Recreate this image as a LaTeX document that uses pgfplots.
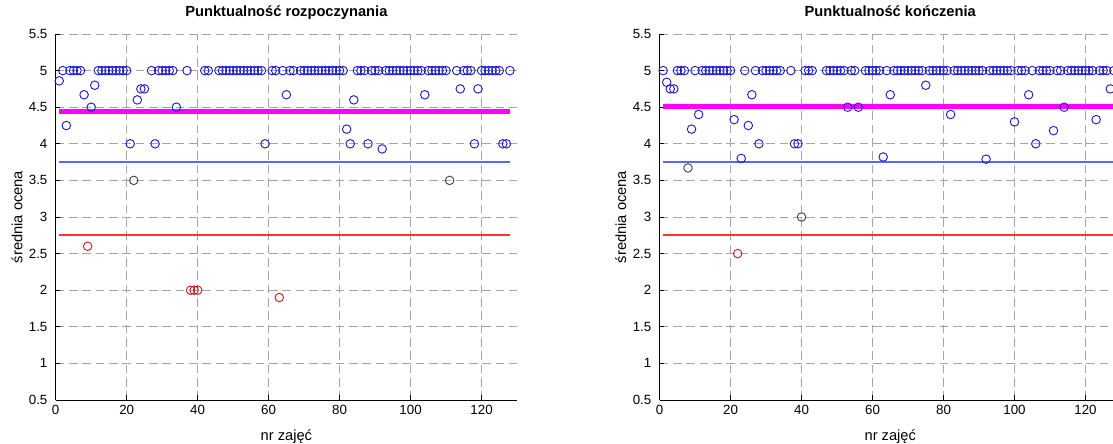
\documentclass[border=0pt]{standalone}
\usepackage{fontspec}
\setmainfont{Liberation Sans}
\usepackage{pgfplots}
\pgfplotsset{compat=1.18}
\definecolor{mblue}{RGB}{30,30,205}
\definecolor{mred}{RGB}{200,30,30}
\definecolor{mgray}{RGB}{70,70,70}
\definecolor{lineblue}{RGB}{85,105,255}
\definecolor{mmag}{RGB}{255,0,255}
\definecolor{gridgray}{RGB}{165,165,165}
\pgfplotsset{
 mystyle/.style={
  scale only axis, width=346pt, height=274.5pt,
  xmin=0, xmax=130, ymin=0.5, ymax=5.5,
  xtick={0,20,40,60,80,100,120},
  ytick={0.5,1,1.5,2,2.5,3,3.5,4,4.5,5,5.5},
  axis x line*=bottom, axis y line*=left,
  axis line style={black, line width=0.6pt, -},
  tick align=inside, major tick length=3.5pt,
  tick style={black, line width=0.5pt},
  xmajorgrids, ymajorgrids,
  grid style={gridgray, dash pattern=on 6.5pt off 3.5pt, line width=0.6pt},
  tick label style={font=\fontsize{10}{12}\selectfont},
  /pgf/number format/assume math mode=true,
  yticklabel style={/pgf/number format/fixed, /pgf/number format/precision=1, xshift=-2.7pt},
  label style={font=\fontsize{11}{13}\selectfont},
  xlabel style={at={(axis description cs:0.5,-0.1)}, anchor=center},
  ylabel style={at={(axis description cs:-0.084,0.5)}, anchor=center},
  title style={at={(axis description cs:0.5,1.0246)}, anchor=base, font=\bfseries\fontsize{11}{13}\selectfont},
  xlabel={nr zajęć}, ylabel={średnia ocena},
  clip=false,
 },
 bmark/.style={only marks, mark=o, mark size=3.2pt, mark options={line width=0.7pt}, color=mblue},
 rmark/.style={only marks, mark=o, mark size=3.2pt, mark options={line width=0.7pt}, color=mred},
 gmark/.style={only marks, mark=o, mark size=3.2pt, mark options={line width=0.7pt}, color=mgray},
}
\begin{document}
\begin{tikzpicture}
\path[use as bounding box] (0,0) rectangle (834.75pt,332.25pt);
\begin{axis}[mystyle, at={(41.775pt,32.25pt)}, anchor=south west, title={Punktualność rozpoczynania}]
\addplot[red!80!white, line width=1.3pt] coordinates {(1,2.75)(64,2.75)(128,2.75)};
\addplot[mmag, line width=3.75pt] coordinates {(1,4.44)(128,4.44)};
\addplot[lineblue, line width=1.1pt] coordinates {(1,3.75)(128,3.75)};
\addplot[bmark] coordinates {
(1,4.86)(2,5)(3,4.25)(4,5)(5,5)(6,5)(7,5)(8,4.67)(10,4.5)(11,4.8)
(12,5)(13,5)(14,5)(15,5)(16,5)(17,5)(18,5)(19,5)(20,5)(21,4)(23,4.6)(24,4.75)(25,4.75)
(27,5)(28,4)(29,5)(30,5)(31,5)(32,5)(33,5)(34,4.5)(37,5)(42,5)(43,5)
(46,5)(47,5)(48,5)(49,5)(50,5)(51,5)(52,5)(53,5)(54,5)(55,5)(56,5)(57,5)(58,5)(59,4)
(61,5)(62,5)(64,5)(65,4.67)(66,5)(67,5)(69,5)(70,5)(71,5)(72,5)(73,5)(74,5)(75,5)(76,5)
(77,5)(78,5)(79,5)(80,5)(81,5)(82,4.2)(83,4)(84,4.6)(85,5)(86,5)(87,5)(88,4)(89,5)(90,5)
(91,5)(92,3.93)(93,5)(94,5)(95,5)(96,5)(97,5)(98,5)(99,5)(100,5)(101,5)(102,5)(103,5)
(104,4.67)(105,5)(106,5)(107,5)(108,5)(109,5)(110,5)(113,5)(114,4.75)(115,5)(116,5)(117,5)
(118,4)(119,4.75)(120,5)(121,5)(122,5)(123,5)(124,5)(125,5)(126,4)(127,4)(128,5)};
\addplot[rmark] coordinates {(9,2.6)(38,2)(39,2)(40,2)(63,1.9)};
\addplot[gmark] coordinates {(22,3.5)(111,3.5)};
\end{axis}
\begin{axis}[mystyle, at={(494.7pt,32.25pt)}, anchor=south west, title={Punktualność kończenia}]
\addplot[red!80!white, line width=1.3pt] coordinates {(1,2.75)(64,2.75)(128,2.75)};
\addplot[mmag, line width=3.75pt] coordinates {(1,4.51)(128,4.51)};
\addplot[lineblue, line width=1.1pt] coordinates {(1,3.75)(128,3.75)};
\addplot[bmark] coordinates {
(1,5)(2,4.84)(3,4.75)(4,4.75)(5,5)(6,5)(7,5)(9,4.2)(10,5)(11,4.4)
(12,5)(13,5)(14,5)(15,5)(16,5)(17,5)(18,5)(19,5)(20,5)(21,4.33)(23,3.8)(24,5)(25,4.25)
(26,4.67)(27,5)(28,4)(29,5)(30,5)(31,5)(32,5)(33,5)(34,5)(37,5)(38,4)(39,4)
(41,5)(42,5)(43,5)(47,5)(48,5)(49,5)(50,5)(51,5)(52,5)(53,4.5)(54,5)(55,5)(56,4.5)
(58,5)(59,5)(60,5)(61,5)(62,5)(63,3.82)(64,5)(65,4.67)(66,5)(67,5)(68,5)(69,5)(70,5)
(71,5)(72,5)(73,5)(74,5)(75,4.8)(76,5)(77,5)(78,5)(79,5)(80,5)(81,5)(82,4.4)(83,5)(84,5)
(85,5)(86,5)(87,5)(88,5)(89,5)(90,5)(91,5)(92,3.79)(93,5)(94,5)(95,5)(96,5)(97,5)(98,5)
(99,5)(100,4.3)(101,5)(102,5)(103,5)(104,4.67)(105,5)(106,4)(107,5)(108,5)(109,5)(110,5)
(111,4.18)(112,5)(113,5)(114,4.5)(115,5)(116,5)(117,5)(118,5)(119,5)(120,5)(121,5)(122,5)
(123,4.33)(124,5)(125,5)(126,5)(127,4.75)(128,5)};
\addplot[rmark] coordinates {(22,2.5)};
\addplot[gmark] coordinates {(8,3.67)(40,3)};
\end{axis}
\end{tikzpicture}
\end{document}
